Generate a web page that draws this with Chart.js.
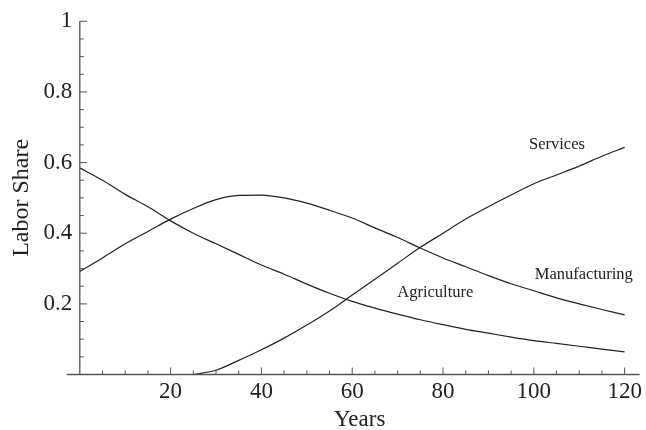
<!DOCTYPE html>
<html>
<head>
<meta charset="utf-8">
<script src="https://cdn.jsdelivr.net/npm/chart.js@4.4.0/dist/chart.umd.min.js"></script>
<style>
  html, body { margin: 0; padding: 0; background: #fff; }
  #wrap { width: 646px; height: 430px; }
</style>
</head>
<body>
<div id="wrap"><canvas id="myChart"></canvas></div>
<script>
// years sampled every 5
const years = [0, 5, 10, 15, 20, 25, 30, 35, 40, 45, 50, 55, 60, 65, 70, 75, 80, 85, 90, 95, 100, 105, 110, 115, 120];
const agriculture = [0.585, 0.55, 0.51, 0.475, 0.435, 0.40, 0.37, 0.34, 0.31, 0.284, 0.256, 0.23, 0.207, 0.188, 0.171, 0.155, 0.141, 0.128, 0.117, 0.106, 0.096, 0.088, 0.08, 0.072, 0.064];
const manufacturing = [0.292, 0.33, 0.37, 0.405, 0.44, 0.47, 0.495, 0.507, 0.508, 0.50, 0.485, 0.465, 0.443, 0.415, 0.388, 0.358, 0.33, 0.305, 0.28, 0.257, 0.237, 0.217, 0.2, 0.184, 0.169];
const services = [null, null, null, null, null, 0, 0.012, 0.04, 0.07, 0.103, 0.14, 0.18, 0.225, 0.27, 0.315, 0.36, 0.40, 0.44, 0.475, 0.508, 0.54, 0.565, 0.59, 0.618, 0.643];
const seriesNames = ['Agriculture', 'Manufacturing', 'Services'];
// where each curve's name sits, in data units
const nameX = [78.3, 111, 105.1];
const nameY = [0.231, 0.282, 0.651];

const FONT = '"Liberation Serif", "Times New Roman", serif';
const INK = '#222';

function pts(vals) {
    return years.map((x, i) => ({ x: x, y: vals[i] }));
}

function mkSet(label, vals) {
    return {
        label: label,
        data: pts(vals),
        borderColor: INK,
        borderWidth: 1.2,
        pointRadius: 0,
        fill: false,
        cubicInterpolationMode: 'monotone',
        spanGaps: false
    };
}

// axes with inward ticks, plus the curve names
const axesPlugin = {
    id: 'axes',
    afterDraw(chart) {
        const c = chart.ctx;
        const xs = chart.scales.x, ys = chart.scales.y;
        const x0 = xs.getPixelForValue(0), y0 = ys.getPixelForValue(0);
        c.save();
        c.strokeStyle = '#555';
        c.lineWidth = 1.3;
        c.beginPath();
        c.moveTo(xs.left - 13, y0); c.lineTo(xs.right, y0);
        c.moveTo(x0, y0); c.lineTo(x0, ys.getPixelForValue(1));
        c.stroke();
        c.lineWidth = 1;
        c.beginPath();
        for (let v = 5; v <= 120; v += 5) {
            const p = xs.getPixelForValue(v);
            const len = v % 20 === 0 ? 7 : 4;
            c.moveTo(p, y0); c.lineTo(p, y0 - len);
        }
        for (let k = 1; k <= 20; k++) {
            const p = ys.getPixelForValue(k * 0.05);
            const len = k % 4 === 0 ? 7 : 4;
            c.moveTo(x0, p); c.lineTo(x0 + len, p);
        }
        c.stroke();
        c.fillStyle = INK;
        c.font = '16.5px ' + FONT;
        c.textAlign = 'center';
        c.textBaseline = 'middle';
        seriesNames.forEach((n, i) => {
            c.fillText(n, xs.getPixelForValue(nameX[i]), ys.getPixelForValue(nameY[i]));
        });
        c.restore();
    }
};

const ctx = document.getElementById('myChart').getContext('2d');
const myChart = new Chart(ctx, {
    type: 'line',
    data: {
        datasets: [
            mkSet('Agriculture', agriculture),
            mkSet('Manufacturing', manufacturing),
            mkSet('Services', services)
        ]
    },
    options: {
        responsive: true,
        maintainAspectRatio: false,
        animation: false,
        layout: { padding: { top: 21, right: 4, left: 0, bottom: 0 } },
        plugins: {
            legend: { display: false },
            tooltip: { enabled: false }
        },
        scales: {
            x: {
                type: 'linear',
                min: 0,
                max: 123.3,
                grid: { display: false, drawTicks: false },
                border: { display: false },
                ticks: {
                    stepSize: 20,
                    includeBounds: false,
                    maxRotation: 0,
                    padding: 4,
                    color: INK,
                    font: { family: FONT, size: 23 },
                    callback: v => (v === 0 ? '' : String(v))
                },
                title: {
                    display: true,
                    text: 'Years',
                    color: INK,
                    font: { family: FONT, size: 23, lineHeight: 1 },
                    padding: { top: 0, bottom: -1 }
                },
                afterFit: s => { s.height = 55.5; }
            },
            y: {
                min: 0,
                max: 1,
                grid: { display: false, drawTicks: false },
                border: { display: false },
                ticks: {
                    stepSize: 0.2,
                    padding: 7.5,
                    color: INK,
                    font: { family: FONT, size: 23 },
                    callback: v => (v === 0 ? '' : String(Math.round(v * 10) / 10))
                },
                title: {
                    display: true,
                    text: 'Labor Share',
                    color: INK,
                    font: { family: FONT, size: 24, lineHeight: 1.2 },
                    padding: { top: 7, bottom: 0 }
                },
                afterFit: s => { s.width = 79.8; }
            }
        }
    },
    plugins: [axesPlugin]
});
</script>
</body>
</html>
